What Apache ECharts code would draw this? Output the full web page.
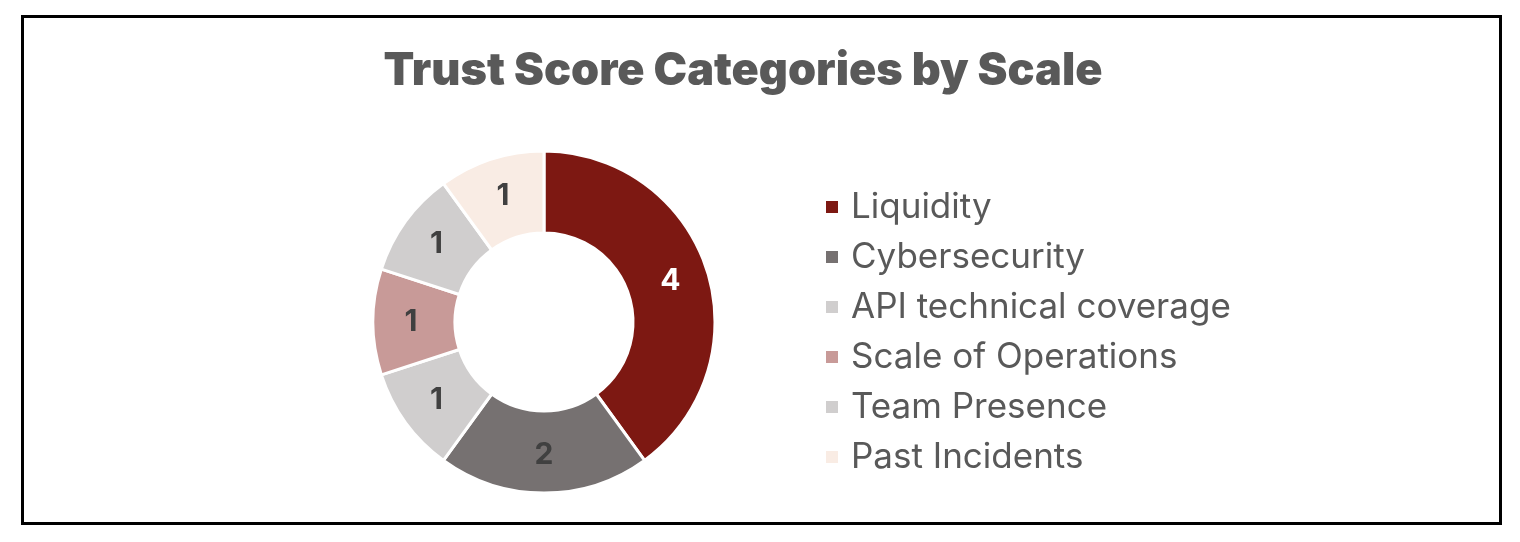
<!DOCTYPE html>
<html>
<head>
<meta charset="utf-8">
<script src="https://cdn.jsdelivr.net/npm/echarts@6/dist/echarts.min.js"></script>
<style>
  html, body { margin: 0; padding: 0; background: #fff; }
  #pie-box { width: 1520px; height: 542px; }
</style>
</head>
<body>
<div id="pie-box"></div>
<script>
// categories and scores
const categories = ['Liquidity', 'Cybersecurity', 'API technical coverage', 'Scale of Operations', 'Team Presence', 'Past Incidents']
const scores = [4, 2, 1, 1, 1, 1]
const sliceColors = ['#7D1812', '#767171', '#D0CECE', '#C89A98', '#D0CECE', '#F9ECE4']
const labelColors = ['#FFFFFF', '#404040', '#404040', '#404040', '#404040', '#404040']

const chart = echarts.init(document.getElementById('pie-box'))

const option = {
  animation: false,
  title: {
    text: 'Trust Score Categories by Scale',
    left: 743,
    textAlign: 'center',
    top: 49,
    padding: 0,
    textStyle: {
      fontFamily: 'Inter',
      fontWeight: 900,
      fontSize: 45,
      color: '#595959'
    }
  },
  legend: {
    orient: 'vertical',
    left: 824,
    top: 187,
    padding: 0,
    itemWidth: 14,
    itemHeight: 14,
    itemGap: 10,
    icon: 'rect',
    textStyle: {
      fontFamily: 'Inter',
      fontSize: 35,
      lineHeight: 40,
      color: '#595959',
      padding: [0, 0, 0, 7]
    },
    data: categories
  },
  // outer frame
  graphic: [{
    type: 'rect',
    shape: { x: 22.5, y: 16.5, width: 1478, height: 507 },
    style: { fill: 'none', stroke: '#000', lineWidth: 3 }
  }],
  series: [{
    type: 'pie',
    center: [544, 322],
    radius: [89, 171],
    startAngle: 90,
    clockwise: true,
    itemStyle: { borderColor: '#fff', borderWidth: 3 },
    label: {
      show: true,
      position: 'inside',
      formatter: '{c}',
      fontFamily: 'Inter',
      fontWeight: 'bold',
      fontSize: 30,
      padding: [5, 0, 0, 0]
    },
    labelLine: { show: false },
    emphasis: { disabled: true },
    data: categories.map((name, i) => ({
      name: name,
      value: scores[i],
      itemStyle: { color: sliceColors[i] },
      label: { color: labelColors[i] }
    }))
  }]
}
chart.setOption(option)
</script>
</body>
</html>
